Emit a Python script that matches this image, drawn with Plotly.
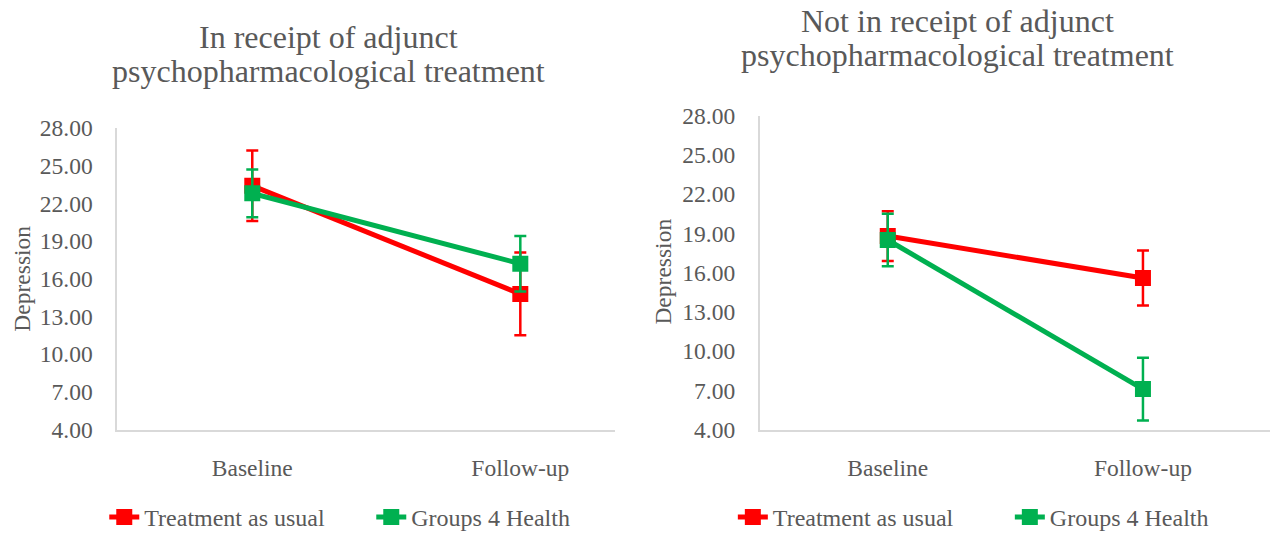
import plotly.graph_objects as go

# Time points
timepoints = ["Baseline", "Follow-up"]

# In receipt of adjunct psychopharmacological treatment
tau_with_meds = [23.4, 14.8]
tau_with_meds_err = [2.8, 3.3]
g4h_with_meds = [22.8, 17.2]
g4h_with_meds_err = [1.9, 2.2]

# Not in receipt of adjunct psychopharmacological treatment
tau_no_meds = [18.8, 15.6]
tau_no_meds_err = [1.9, 2.1]
g4h_no_meds = [18.5, 7.1]
g4h_no_meds_err = [2.0, 2.4]

y_ticks = [4, 7, 10, 13, 16, 19, 22, 25, 28]

RED = "#FF0000"
GREEN = "#00B050"
GREY = "#595959"
AXIS = "#D9D9D9"
FONT = "Liberation Serif, Times New Roman, serif"

W, H = 1287, 540


def px_x(v):
    return v / W


def px_y(v):
    return 1 - v / H


fig = go.Figure()


def add_series(name, y, err, color, xa, ya, legend, showlegend=True):
    fig.add_trace(go.Scatter(
        x=[0, 1], y=y, name=name, mode="lines+markers",
        line=dict(color=color, width=5),
        marker=dict(symbol="square", size=16, color=color),
        error_y=dict(type="data", array=err, visible=True,
                     color=color, thickness=2.5, width=6),
        xaxis=xa, yaxis=ya, legend=legend, showlegend=showlegend,
    ))


add_series("Treatment as usual", tau_with_meds, tau_with_meds_err, RED, "x", "y", "legend")
add_series("Groups 4 Health", g4h_with_meds, g4h_with_meds_err, GREEN, "x", "y", "legend")
add_series("Treatment as usual", tau_no_meds, tau_no_meds_err, RED, "x2", "y2", "legend2")
add_series("Groups 4 Health", g4h_no_meds, g4h_no_meds_err, GREEN, "x2", "y2", "legend2")

x_common = dict(
    tickmode="array", tickvals=[0, 1], ticktext=timepoints,
    showline=True, linecolor=AXIS, linewidth=1.5, showgrid=False,
    zeroline=False, ticks="", tickfont=dict(family=FONT, size=23.5, color=GREY),
    ticklabelstandoff=16,
)
y_common = dict(
    range=[4, 28], tickmode="array", tickvals=y_ticks,
    ticktext=[f"{v:.2f}" for v in y_ticks],
    showline=True, linecolor=AXIS, linewidth=1.5, showgrid=False,
    zeroline=False, ticks="", tickfont=dict(family=FONT, size=23.5, color=GREY),
    ticklabelstandoff=18,
)

legend_font = dict(family=FONT, size=24, color=GREY)

fig.update_layout(
    width=W, height=H,
    margin=dict(l=0, r=0, t=0, b=0),
    paper_bgcolor="white", plot_bgcolor="white",
    font=dict(family=FONT, color=GREY),
    xaxis=dict(domain=[px_x(118), px_x(619)], range=[-0.504, 1.352],
               anchor="y", **x_common),
    yaxis=dict(domain=[px_y(442), px_y(122)], anchor="x", **y_common),
    xaxis2=dict(domain=[px_x(765), px_x(1279)], range=[-0.502, 1.498],
                anchor="y2", **x_common),
    yaxis2=dict(domain=[px_y(442), px_y(109)], anchor="x2", **y_common),
    legend=dict(orientation="h", x=px_x(105), y=px_y(535), yanchor="middle",
                xanchor="left", font=legend_font,
                entrywidth=222, entrywidthmode="pixels",
                bgcolor="rgba(0,0,0,0)"),
    legend2=dict(orientation="h", x=px_x(738), y=px_y(535), yanchor="middle",
                 xanchor="left", font=legend_font,
                 entrywidth=232, entrywidthmode="pixels",
                 bgcolor="rgba(0,0,0,0)"),
)

title_font = dict(family=FONT, size=32, color=GREY)


def add_text(text, x, y, font, angle=0):
    fig.add_annotation(text=text, x=px_x(x), y=px_y(y), xref="paper", yref="paper",
                       showarrow=False, xanchor="center", yanchor="middle",
                       textangle=angle, font=font)


# Panel titles, one line at a time
add_text("In receipt of adjunct", 331, 25, title_font)
add_text("psychopharmacological treatment", 331, 62, title_font)
add_text("Not in receipt of adjunct", 964, 8, title_font)
add_text("psychopharmacological treatment", 964, 45, title_font)

# Y-axis titles
axis_title_font = dict(family=FONT, size=23.5, color=GREY)
add_text("Depression", 22, 282, axis_title_font, -90)
add_text("Depression", 668, 274, axis_title_font, -90)

fig.write_html("out.html")
